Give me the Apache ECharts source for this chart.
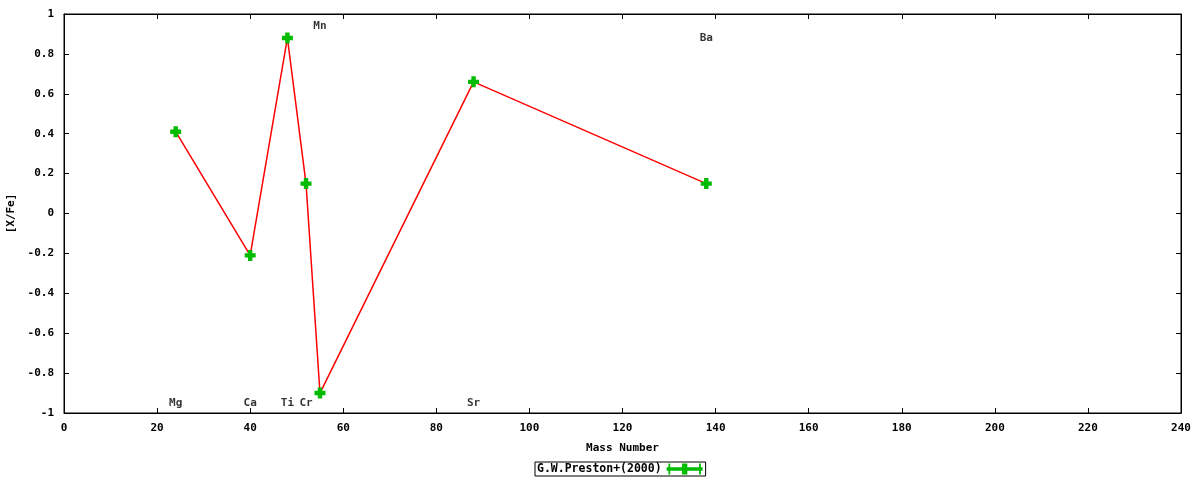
<!DOCTYPE html>
<html><head><meta charset="utf-8">
<script src="https://cdn.jsdelivr.net/npm/echarts@6/dist/echarts.min.js"></script>
<style>html,body{margin:0;padding:0;background:#fff}#c{width:1200px;height:480px}</style>
</head><body><div id="c"></div>
<script>
const massNumbers = [24, 40, 48, 52, 55, 88, 138];
const xFeValues = [0.41, -0.21, 0.88, 0.15, -0.90, 0.66, 0.15];
const elementNames = ['Mg', 'Ca', 'Ti', 'Cr', 'Mn', 'Sr', 'Ba'];
const labelX = [24, 40, 48, 52, 55, 88, 138];
const labelY = [-0.95, -0.95, -0.95, -0.95, 0.94, -0.95, 0.88];
const xTicks = [0, 20, 40, 60, 80, 100, 120, 140, 160, 180, 200, 220, 240];
const yTicks = [-1, -0.8, -0.6, -0.4, -0.2, 0, 0.2, 0.4, 0.6, 0.8, 1];
const seriesName = 'G.W.Preston+(2000)';

const font = 'DejaVu Sans Mono';
const plus = 'path://M3,0 L7,0 L7,3 L10,3 L10,7 L7,7 L7,10 L3,10 L3,7 L0,7 L0,3 L3,3 Z';
const legendIcon = 'path://M0,4 L2,4 L2,0 L4,0 L4,4 L17,4 L17,0 L23,0 L23,4 L36,4 L36,0 L38,0 L38,4 L40,4 L40,8 L38,8 L38,12 L36,12 L36,8 L23,8 L23,12 L17,12 L17,8 L4,8 L4,12 L2,12 L2,8 L0,8 Z';

const chart = echarts.init(document.getElementById('c'), null, {renderer: 'canvas'});
const axisLabel = {color: '#000', fontFamily: font, fontWeight: 'bold', fontSize: 11};
const baseX = {type: 'value', min: 0, max: 240, interval: 20,
  axisLine: {show: true, onZero: false, lineStyle: {color: '#000'}},
  axisTick: {show: true, inside: true, length: 5, lineStyle: {color: '#000'}},
  splitLine: {show: false}};
const baseY = {type: 'value', min: -1, max: 1, interval: 0.2,
  axisLine: {show: true, onZero: false, lineStyle: {color: '#000'}},
  axisTick: {show: true, inside: true, length: 5, lineStyle: {color: '#000'}},
  splitLine: {show: false}};

chart.setOption({
  animation: false,
  backgroundColor: '#fff',
  grid: {left: 64, right: 19, top: 14, bottom: 67, show: true, borderColor: '#000', borderWidth: 1,
    containLabel: false, outerBoundsMode: 'none'},
  legend: {
    bottom: 4, left: 535, align: 'right',
    borderColor: '#000', borderWidth: 1, padding: [1, 3, 1, 2], borderRadius: 0,
    itemWidth: 36, itemHeight: 11, itemGap: 5,
    textStyle: {fontFamily: font, fontWeight: 'bold', fontSize: 11.5, color: '#000'},
    data: [{name: seriesName, icon: legendIcon, itemStyle: {color: '#00bb00'}}]
  },
  xAxis: [
    Object.assign({}, baseX, {position: 'bottom', name: 'Mass Number', nameLocation: 'middle', nameGap: 30,
      nameTextStyle: {color: '#000', fontFamily: font, fontWeight: 'bold', fontSize: 11},
      axisLabel: Object.assign({}, axisLabel, {margin: 10, formatter: v => String(v)})}),
    Object.assign({}, baseX, {position: 'top', axisLabel: {show: false}})
  ],
  yAxis: [
    Object.assign({}, baseY, {position: 'left', name: '[X/Fe]', nameLocation: 'middle', nameGap: 44, nameRotate: 90,
      nameTextStyle: {color: '#000', fontFamily: font, fontWeight: 'bold', fontSize: 11},
      axisLabel: Object.assign({}, axisLabel, {margin: 10, formatter: v => String(Math.round(v * 10) / 10)})}),
    Object.assign({}, baseY, {position: 'right', axisLabel: {show: false}})
  ],
  series: [
    {
      name: seriesName, type: 'line',
      data: massNumbers.map((m, i) => [m, xFeValues[i]]),
      lineStyle: {color: '#ff0000', width: 1.5},
      symbol: plus, symbolSize: 11, showAllSymbol: true,
      itemStyle: {color: '#00bb00'}, z: 3
    },
    {
      name: 'labels', type: 'scatter', symbolSize: 0, silent: true,
      data: labelX.map((x, i) => ({value: [x, labelY[i]], name: elementNames[i]})),
      label: {show: true, position: 'inside', formatter: p => p.name,
        color: '#000', fontFamily: font, fontWeight: 'bold', fontSize: 11}
    }
  ]
});
</script></body></html>
